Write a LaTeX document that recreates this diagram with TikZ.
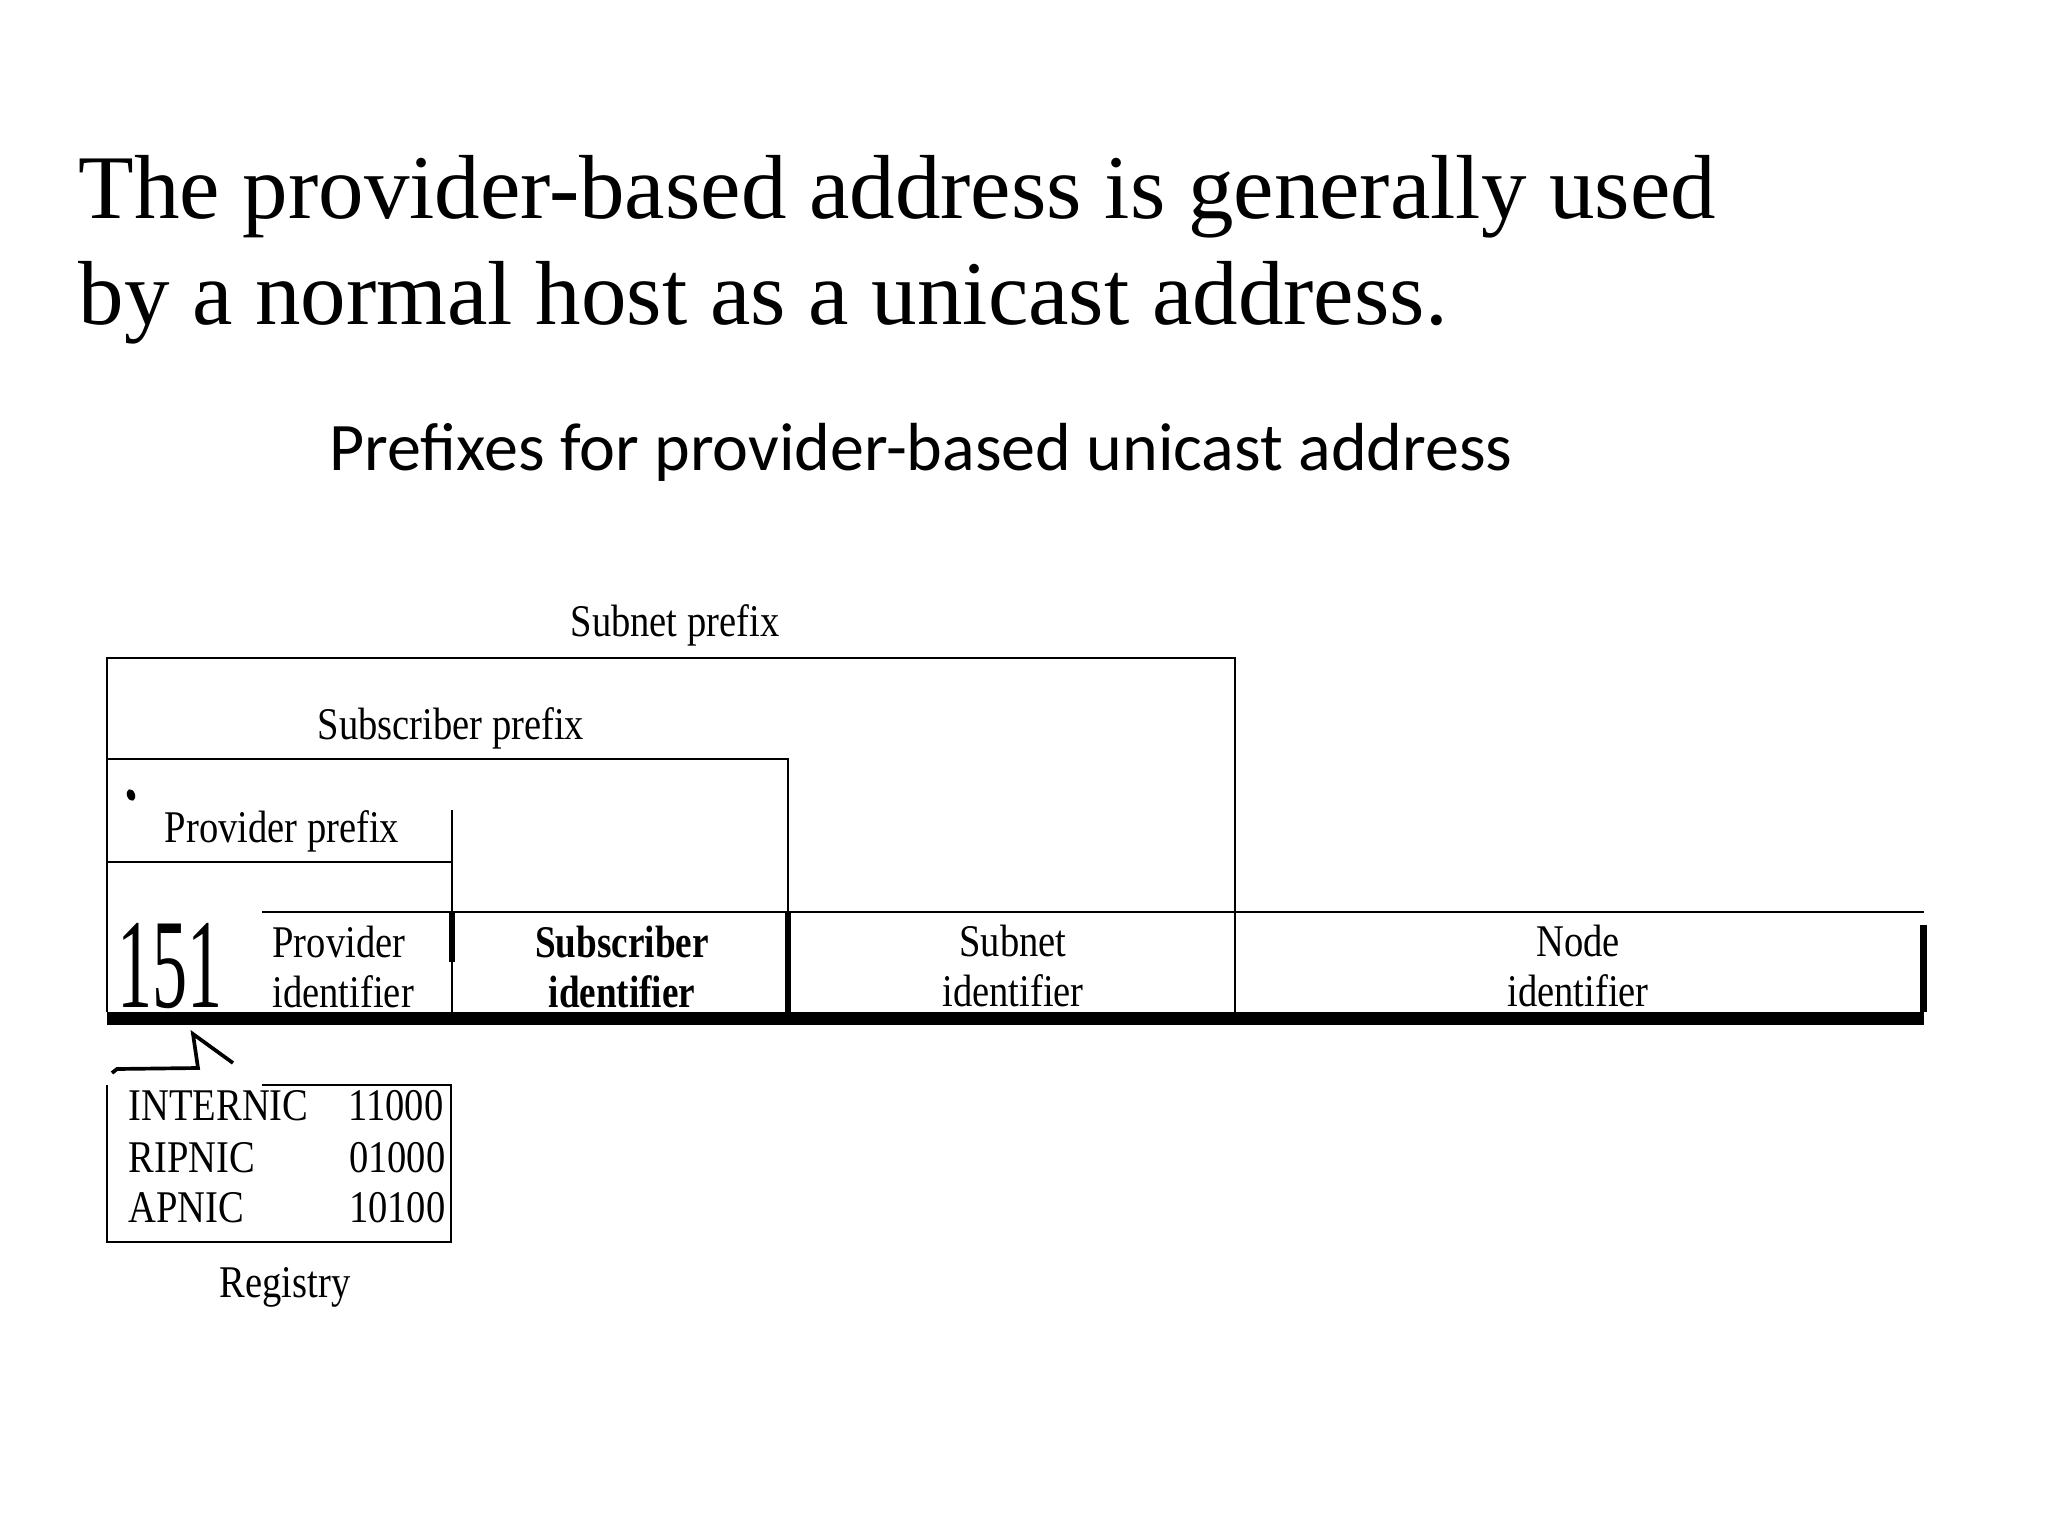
\documentclass[tikz,border=0pt]{standalone}
\usepackage{fontspec}
\setmainfont{Liberation Serif}
\newfontfamily\dgfont[FakeStretch=0.85]{Liberation Serif}
\newfontfamily\dgbold[FakeStretch=0.82]{Liberation Serif Bold}
\newfontfamily\dgbig[FakeStretch=0.55]{Liberation Serif}
\newfontfamily\subtfont{Carlito}
\begin{document}
\begin{tikzpicture}[x=0.0048828in,y=-0.0048828in,
  thinln/.style={line width=0.75pt},
  thickln/.style={line width=1.8pt},
  titletext/.style={anchor=base west, inner sep=0pt, font=\fontsize{32.1}{36}\selectfont},
  subtitle/.style={anchor=base west, inner sep=0pt, font=\fontsize{24}{28}\selectfont\subtfont},
  lbl/.style={inner sep=0pt, font=\fontsize{16}{17.6}\selectfont\dgfont},
  fieldlbl/.style={lbl, anchor=base, align=center},
]
\useasboundingbox (0,0) rectangle (2048,1536);

% titles
\node[titletext] (t1) at (78,219) {The provider-based address is generally used};
\node[titletext] (t2) at (78,324) {by a normal host as a unicast address.};
\node[subtitle] (sub) at (329,470) {Prefixes for provider-based unicast address};

% prefix brackets
\coordinate (snTL) at (107,658);
\coordinate (snTR) at (1235,658);
\coordinate (snBR) at (1235,1012);
\coordinate (baseL) at (107,1012);
\coordinate (sbL) at (107,759);
\coordinate (sbR) at (788,759);
\coordinate (sbTop) at (788,912);
\coordinate (sbBot) at (788,1012);
\coordinate (pvL) at (107,862);
\coordinate (pvR) at (452,862);
\coordinate (pvTop) at (452,810);
\coordinate (pvField) at (452,912);
\coordinate (pvMid) at (452,962);
\coordinate (pvBot) at (452,1012);
\coordinate (fTopL) at (262,912);
\coordinate (fTopR) at (1924,912);

\draw[thinln] (baseL) -- (snTL) -- (snTR) -- (snBR);
\draw[thinln] (sbL) -- (sbR) -- (sbTop);
\draw[thickln] (sbTop) -- (sbBot);
\draw[thinln] (pvL) -- (pvR);
\draw[thinln] (pvTop) -- (pvBot);
\draw[thickln] (pvField) -- (pvMid);
\draw[thinln] (fTopL) -- (fTopR);
\fill (107,1012) rectangle (1924,1025);
\fill (1920,925) rectangle (1927,1012);
\fill[rotate around={20:(131,795)}] (131,795) ellipse (4 and 6);

\node[lbl, anchor=base] (snp) at (675,636) {Subnet prefix};
\node[lbl, anchor=base] (sbp) at (451,739) {Subscriber prefix};
\node[lbl, anchor=base] (pvp) at (282,842) {Provider prefix};

% fields
\node[inner sep=0pt, font=\fontsize{45}{45}\selectfont\dgbig] (n151) at (170,966) {151};
\node[lbl, anchor=base west, align=left] (pid) at (272,1007) {Provider\\identifier};
\node[fieldlbl, font=\fontsize{16}{17.6}\selectfont\dgbold] (sid) at (622,1007) {Subscriber\\identifier};
\node[fieldlbl] (snid) at (1013,1006) {Subnet\\identifier};
\node[fieldlbl] (nid) at (1578,1006) {Node\\identifier};

% registry pointer
\coordinate (z1) at (112,1073);
\coordinate (z2) at (117,1069);
\coordinate (z3) at (198,1068);
\coordinate (z4) at (193,1034);
\coordinate (z5) at (233,1063);
\draw[line width=1.3pt, line join=miter] (z1) -- (z2) -- (z3) -- (z4) -- (z5);

% registry box
\coordinate (rTL) at (107,1085);
\coordinate (rBL) at (107,1242);
\coordinate (rBR) at (451,1242);
\coordinate (rTR) at (451,1085);
\coordinate (rTop) at (262,1085);
\draw[thinln] (rTL) -- (rBL) -- (rBR) -- (rTR) -- (rTop);

\node[lbl, anchor=base west] (r1) at (128,1120) {INTERNIC};
\node[lbl, anchor=base west] (r2) at (128,1172) {RIPNIC};
\node[lbl, anchor=base west] (r3) at (128,1222) {APNIC};
\node[lbl, anchor=base east] (c1) at (444,1120) {11000};
\node[lbl, anchor=base east] (c2) at (446,1172) {01000};
\node[lbl, anchor=base east] (c3) at (446,1222) {10100};
\node[lbl, anchor=base] (reg) at (285,1297) {Registry};
\end{tikzpicture}
\end{document}
